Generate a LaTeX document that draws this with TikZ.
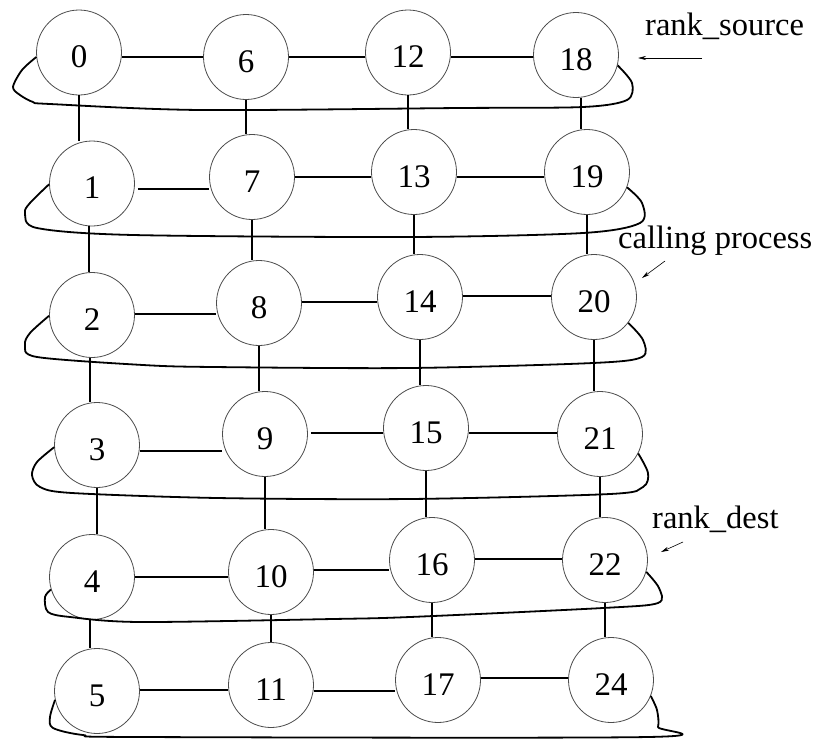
\documentclass[tikz,border=0pt]{standalone}
\usepackage{fontspec}
\setmainfont{Liberation Serif}
\usetikzlibrary{arrows.meta}
\begin{document}
\begin{tikzpicture}[x=1pt,y=-1pt,
  proc/.style={circle,draw=black!70,line width=0.8pt,minimum size=85pt,inner sep=0pt,
    font=\fontsize{33}{36}\selectfont,text height=30.5pt,text depth=0pt},
  link/.style={line width=1.8pt},
  wrap/.style={line width=1.8pt,line join=round},
  lbl/.style={font=\fontsize{32.5}{36}\selectfont,inner sep=0pt,anchor=base west},
  pointer/.style={line width=0.6pt,-{Stealth[length=8pt,width=4pt]}}]
\useasboundingbox (0,0) rectangle (820,739);
% nodes
\node[proc] (n0)  at (79,52.5) {0};
\node[proc] (n6)  at (246,57) {6};
\node[proc] (n12) at (408,52.5) {12};
\node[proc] (n18) at (576,55) {18};
\node[proc] (n1)  at (92,183.5) {1};
\node[proc] (n7)  at (252,177) {7};
\node[proc] (n13) at (414,172) {13};
\node[proc] (n19) at (587,172) {19};
\node[proc] (n2)  at (92,315) {2};
\node[proc] (n8)  at (259,303) {8};
\node[proc] (n14) at (420,297) {14};
\node[proc] (n20) at (594,297) {20};
\node[proc] (n3)  at (97,445) {3};
\node[proc] (n9)  at (265,434) {9};
\node[proc] (n15) at (426,428) {15};
\node[proc] (n21) at (600,434) {21};
\node[proc] (n4)  at (92,577) {4};
\node[proc] (n10) at (271,572) {10};
\node[proc] (n16) at (432,560) {16};
\node[proc] (n22) at (605,560) {22};
\node[proc] (n5)  at (97,691) {5};
\node[proc] (n11) at (271,685) {11};
\node[proc] (n17) at (438,680) {17};
\node[proc] (n24) at (611,680) {24};
% horizontal links
\draw[link] (n0.east |- 0,57) -- (n6.west |- 0,57);
\draw[link] (n6.east |- 0,57) -- (n12.west |- 0,57);
\draw[link] (n12.east |- 0,57) -- (n18.west |- 0,57);
\draw[link] (138,189 -| n1.east) ++(3,0) -- (n7.west |- 0,189);
\draw[link] (n7.east |- 0,177) -- (n13.west |- 0,177);
\draw[link] (n13.east |- 0,177) -- (n19.west |- 0,177);
\draw[link] (n2.east |- 0,314) -- (n8.west |- 0,314);
\draw[link] (n8.east |- 0,302) -- (n14.west |- 0,302);
\draw[link] (n14.east |- 0,296) -- (n20.west |- 0,296);
\draw[link] (n3.east |- 0,451) -- (n9.west |- 0,451);
\draw[link] (n9.east |- 0,433) ++(3,0) -- (n15.west |- 0,433);
\draw[link] (n15.east |- 0,433) -- (n21.west |- 0,433);
\draw[link] (n4.east |- 0,577) -- (n10.west |- 0,577);
\draw[link] (n10.east |- 0,570) -- (n16.west |- 0,570);
\draw[link] (n16.east |- 0,559) -- (n22.west |- 0,559);
\draw[link] (n5.east |- 0,690) -- (n11.west |- 0,690);
\draw[link] (n11.east |- 0,691) -- (n17.west |- 0,691);
\draw[link] (n17.east |- 0,678) -- (n24.west |- 0,678);
% vertical links
\foreach \a/\b in {n0/n1,n6/n7,n12/n13,n7/n8,n13/n14,n8/n9,n14/n15,n3/n4,n9/n10,n15/n16,n10/n11,n16/n17,n21/n22,n22/n24,n20/n21,n19/n20}
  \draw[link] (\a.south) -- (\a.south |- \b.north);
\draw[link] (n1.south -| 89,0) -- (89,0 |- n2.north);
\draw[link] (n2.south -| 90,0) -- (90,0 |- n3.north);
\draw[link] (n4.south -| 90,0) -- (90,0 |- n5.north);
\draw[link] (n18.south -| 581,0) -- (581,0 |- n19.north);
% wraps
\draw[wrap] plot[smooth,tension=0.5] coordinates {(n0.186) (22,70) (13,87) (20,95) (33,102) (50,104) (200,110) (460,108) (583,107) (627,100) (632,83) (n18.-14)};
\draw[wrap] plot[smooth,tension=0.5] coordinates {(n1.181) (30,203) (25,213) (37,228) (133,235) (410,237) (583,233) (640,223) (642,203) (n19.-21)};
\draw[wrap] plot[smooth,tension=0.5] coordinates {(n2.181) (30,333) (25,345) (37,357) (143,365) (213,367) (410,368) (593,363) (642,357) (643,340) (n20.-37)};
\draw[wrap] plot[smooth,tension=0.5] coordinates {(n3.183) (37,462) (32,475) (40,487) (72,493) (217,498) (410,499) (610,494) (643,487) (648,473) (n21.-27)};
\draw[wrap] plot[smooth,tension=0.5] coordinates {(n4.197) (45,597) (48,612) (70,617) (140,622) (333,619) (410,617) (603,608) (658,603) (659,588) (n22.-16)};
\draw[wrap] plot[smooth,tension=0.5] coordinates {(n5.192) (50,717) (53,728) (83,735) (137,737) (648,737) (658,727) (657,710) (n24.-22)};
% labels
\node[lbl] (src) at (645,35) {rank\_source};
\coordinate (srcA) at (702,58);
\coordinate (srcB) at (638,58);
\draw[pointer] (srcA) -- (srcB);
\node[lbl] (call) at (618,248) {calling process};
\coordinate (callA) at (665,261);
\coordinate (callB) at (642,278);
\draw[pointer] (callA) -- (callB);
\node[lbl] (dst) at (652,528) {rank\_dest};
\coordinate (dstA) at (683,542);
\coordinate (dstB) at (661,552);
\draw[pointer] (dstA) -- (dstB);
\end{tikzpicture}
\end{document}
